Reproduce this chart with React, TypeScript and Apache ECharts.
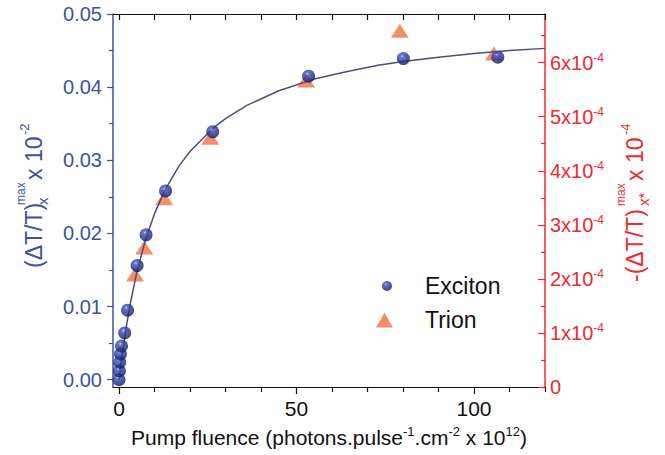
import React, { useEffect, useRef } from "react";
import * as echarts from "echarts";

// Exciton: (ΔT/T)max_X x 10^-2 (left axis)
const excitonX = [0, 0.1, 0.2, 0.4, 0.7, 1.6, 2.4, 5.1, 7.6, 13.1, 26.4, 53.4, 80.1, 106.7];
const excitonY = [0.0, 0.0012, 0.0024, 0.0035, 0.0046, 0.0064, 0.0095, 0.0156, 0.0198, 0.0258, 0.0339, 0.0415, 0.0439, 0.0441];
// Trion: -(ΔT/T)max_X* in units of 10^-4 (right axis)
const trionX = [4.5, 7.1, 12.7, 25.7, 52.7, 79.1, 105.6];
const trionY = [2.08, 2.58, 3.49, 4.61, 5.67, 6.59, 6.17];
// Fit curve
const fitX = [0, 1, 2, 3, 5, 7.5, 10, 13, 17, 20, 26.5, 30, 36, 45, 55, 64, 73, 80, 90, 100, 110, 120];
const fitY = [0, 0.0038, 0.0071, 0.01, 0.0147, 0.0192, 0.0227, 0.026, 0.0293, 0.0312, 0.0344, 0.0357, 0.0375, 0.0395, 0.0411, 0.0421, 0.043, 0.0435, 0.0441, 0.0446, 0.045, 0.0453];

const xMajorTicks = [0, 50, 100];
const xMinorTicks = [10, 20, 30, 40, 60, 70, 80, 90, 110, 120];
const xTopTicks = [0, 10, 20, 30, 40, 50, 60, 70, 80, 90, 100, 110, 120];
const leftMajorTicks = [0, 0.01, 0.02, 0.03, 0.04, 0.05];
const leftMinorTicks = [0.005, 0.015, 0.025, 0.035, 0.045];
const rightMajorTicks = [0, 1, 2, 3, 4, 5, 6];
const rightMinorTicks = [0.5, 1.5, 2.5, 3.5, 4.5, 5.5, 6.5];

const FONT = "'Liberation Sans', Arial, Helvetica, sans-serif";
const BLUE = "#3b52a5";
const RED = "#ee2b2e";
const BLACK = "#111111";

export default function App() {
  const ref = useRef<HTMLDivElement>(null);

  useEffect(() => {
    document.body.style.margin = "0";
    if (!ref.current) return;
    const chart = echarts.init(ref.current, undefined, { renderer: "svg" });

    const ballColor = new echarts.graphic.RadialGradient(0.4, 0.32, 0.68, [
      { offset: 0, color: "#e2e6ff" },
      { offset: 0.14, color: "#4a5cc2" },
      { offset: 0.5, color: "#283894" },
      { offset: 1, color: "#131a62" },
    ]);

    const baseText = (size: number, color: string) => ({ fontSize: size, fontFamily: FONT, color });

    const option: any = {
      animation: false,
      backgroundColor: "#ffffff",
      grid: { left: 113, right: 120, top: 14, bottom: 68, containLabel: false, outerBoundsMode: "none" },
      legend: [
        {
          data: [{ name: "Exciton", icon: "circle" }],
          left: 382,
          top: 274,
          padding: 0,
          itemWidth: 10,
          itemHeight: 10,
          textStyle: { fontSize: 23, fontFamily: FONT, color: BLACK, lineHeight: 24, padding: [0, 0, 0, 28] },
        },
        {
          data: [{ name: "Trion", icon: "triangle" }],
          left: 376,
          top: 308,
          padding: 0,
          itemWidth: 17,
          itemHeight: 15,
          textStyle: { fontSize: 23, fontFamily: FONT, color: BLACK, lineHeight: 24, padding: [0, 0, 0, 27] },
        },
      ],
      xAxis: [
        {
          type: "value",
          position: "bottom",
          min: -1.7,
          max: 120,
          axisLine: { show: true, onZero: false, lineStyle: { color: BLACK, width: 1.2 } },
          axisTick: { show: true, inside: false, length: 7, customValues: xMajorTicks, lineStyle: { color: BLACK, width: 1.2 } },
          axisLabel: { show: true, customValues: xMajorTicks, margin: 11, ...baseText(21, BLACK) },
          splitLine: { show: false },
          name: "{a|Pump fluence (photons.pulse}{s|-1}{a|.cm}{s|-2}{a| x 10}{s|12}{a|)}",
          nameLocation: "middle",
          nameGap: 38,
          nameTextStyle: {
            rich: {
              a: { fontSize: 21, fontFamily: FONT, color: BLACK, lineHeight: 24 },
              s: { fontSize: 13, fontFamily: FONT, color: BLACK, verticalAlign: "top", lineHeight: 15 },
            },
          },
        },
        {
          type: "value",
          position: "bottom",
          min: -1.7,
          max: 120,
          axisLine: { show: false, onZero: false },
          axisTick: { show: true, inside: false, length: 5, customValues: xMinorTicks, lineStyle: { color: BLACK, width: 1.2 } },
          axisLabel: { show: false },
          splitLine: { show: false },
        },
        {
          type: "value",
          position: "top",
          min: -1.7,
          max: 120,
          axisLine: { show: true, onZero: false, lineStyle: { color: BLACK, width: 1.2 } },
          axisTick: { show: true, inside: true, length: 6, customValues: xTopTicks, lineStyle: { color: BLACK, width: 1.2 } },
          axisLabel: { show: false },
          splitLine: { show: false },
        },
      ],
      yAxis: [
        {
          type: "value",
          position: "left",
          min: -0.001,
          max: 0.05,
          axisLine: { show: true, onZero: false, lineStyle: { color: BLUE, width: 1.5 } },
          axisTick: { show: true, inside: false, length: 6, customValues: leftMajorTicks, lineStyle: { color: BLUE, width: 1.2 } },
          axisLabel: {
            show: true,
            customValues: leftMajorTicks,
            margin: 11,
            formatter: (v: number) => v.toFixed(2),
            ...baseText(20, BLUE),
          },
          splitLine: { show: false },
        },
        {
          type: "value",
          position: "right",
          min: 0,
          max: 6.9,
          axisLine: { show: true, onZero: false, lineStyle: { color: RED, width: 1.5 } },
          axisTick: { show: true, inside: true, length: 7, customValues: rightMajorTicks, lineStyle: { color: RED, width: 1.2 } },
          axisLabel: {
            show: true,
            customValues: rightMajorTicks,
            margin: 5,
            formatter: (v: number) => (v === 0 ? "{a|0}" : `{a|${Math.round(v)}x10}{s|-4}`),
            rich: {
              a: { fontSize: 20, fontFamily: FONT, color: RED, lineHeight: 22 },
              s: { fontSize: 12, fontFamily: FONT, color: RED, verticalAlign: "top", lineHeight: 14 },
            },
          },
          splitLine: { show: false },
        },
        {
          type: "value",
          position: "left",
          min: -0.001,
          max: 0.05,
          axisLine: { show: false, onZero: false },
          axisTick: { show: true, inside: false, length: 4, customValues: leftMinorTicks, lineStyle: { color: BLUE, width: 1.2 } },
          axisLabel: { show: false },
          splitLine: { show: false },
        },
        {
          type: "value",
          position: "right",
          min: 0,
          max: 6.9,
          axisLine: { show: false, onZero: false },
          axisTick: { show: true, inside: true, length: 4, customValues: rightMinorTicks, lineStyle: { color: RED, width: 1.2 } },
          axisLabel: { show: false },
          splitLine: { show: false },
        },
      ],
      series: [
        {
          name: "Trion",
          type: "scatter",
          xAxisIndex: 0,
          yAxisIndex: 1,
          symbol: "triangle",
          symbolSize: [18, 14],
          itemStyle: { color: "#f4855e", opacity: 0.92 },
          data: trionX.map((x, i) => [x, trionY[i]]),
          z: 2,
        },
        {
          name: "Fit",
          type: "line",
          xAxisIndex: 0,
          yAxisIndex: 0,
          symbol: "none",
          smooth: false,
          lineStyle: { color: "#4a4e7c", width: 1.5 },
          data: fitX.map((x, i) => [x, fitY[i]]),
          z: 3,
        },
        {
          name: "Exciton",
          type: "scatter",
          xAxisIndex: 0,
          yAxisIndex: 0,
          symbol: "circle",
          symbolSize: 13,
          itemStyle: { color: ballColor },
          data: excitonX.map((x, i) => [x, excitonY[i]]),
          z: 4,
        },
      ],
      graphic: [
        {
          type: "group",
          x: 34,
          y: 268,
          rotation: Math.PI / 2,
          children: [
            { type: "text", x: 0, y: 0, style: { text: "(ΔT/T)", fontSize: 23, fontFamily: FONT, fill: BLUE, align: "left", verticalAlign: "middle" } },
            { type: "text", x: 63, y: -13, style: { text: "max", fontSize: 12, fontFamily: FONT, fill: BLUE, align: "left", verticalAlign: "middle" } },
            { type: "text", x: 63, y: 8, style: { text: "x", fontSize: 15, fontFamily: FONT, fill: BLUE, align: "left", verticalAlign: "middle" } },
            { type: "text", x: 88, y: 0, style: { text: "x 10", fontSize: 23, fontFamily: FONT, fill: BLUE, align: "left", verticalAlign: "middle" } },
            { type: "text", x: 133, y: -10, style: { text: "-2", fontSize: 13, fontFamily: FONT, fill: BLUE, align: "left", verticalAlign: "middle" } },
          ],
        },
        {
          type: "group",
          x: 635,
          y: 282,
          rotation: Math.PI / 2,
          children: [
            { type: "text", x: 0, y: 0, style: { text: "-(ΔT/T)", fontSize: 23, fontFamily: FONT, fill: RED, align: "left", verticalAlign: "middle" } },
            { type: "text", x: 76, y: -14, style: { text: "max", fontSize: 12, fontFamily: FONT, fill: RED, align: "left", verticalAlign: "middle" } },
            { type: "text", x: 76, y: 8, style: { text: "x*", fontSize: 15, fontFamily: FONT, fill: RED, align: "left", verticalAlign: "middle" } },
            { type: "text", x: 101, y: 0, style: { text: "x 10", fontSize: 23, fontFamily: FONT, fill: RED, align: "left", verticalAlign: "middle" } },
            { type: "text", x: 147, y: -10, style: { text: "-4", fontSize: 13, fontFamily: FONT, fill: RED, align: "left", verticalAlign: "middle" } },
          ],
        },
      ],
    };

    chart.setOption(option);
    return () => chart.dispose();
  }, []);

  return <div ref={ref} style={{ width: 665, height: 455 }} />;
}
